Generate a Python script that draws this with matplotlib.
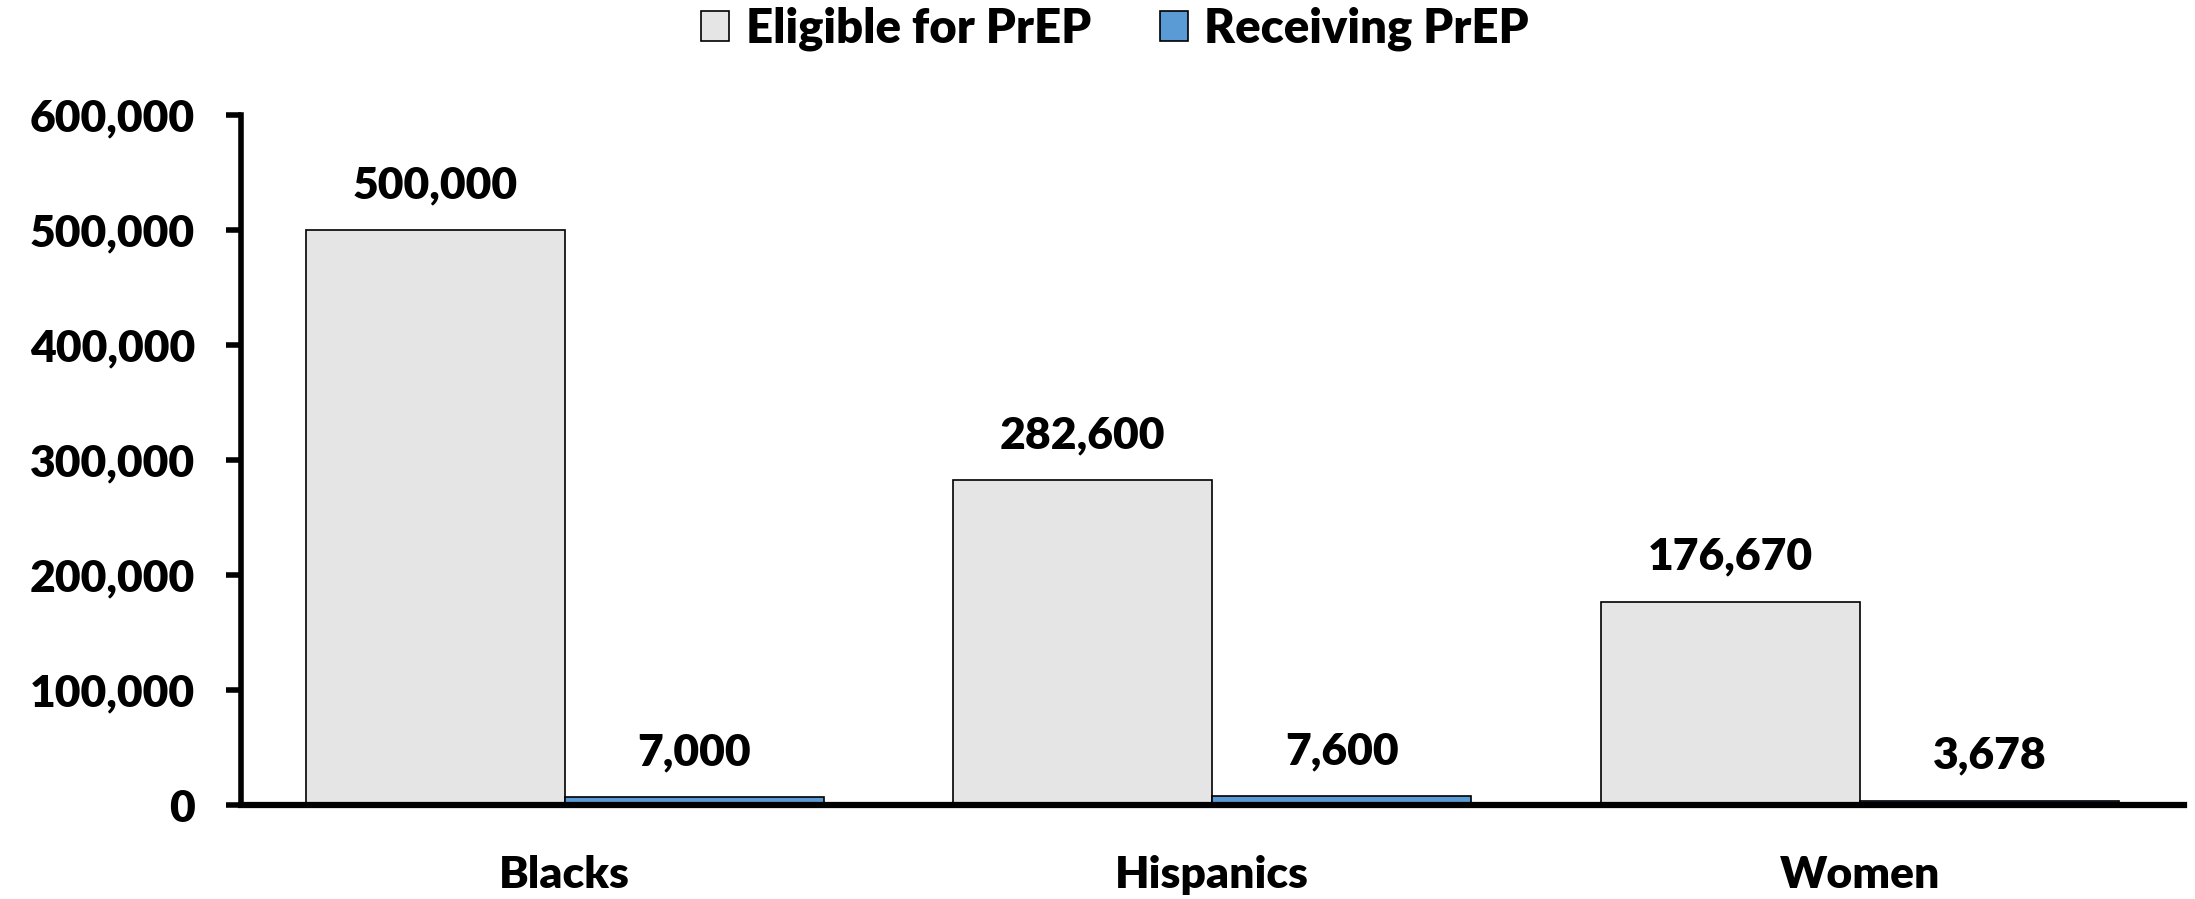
import matplotlib
matplotlib.use("Agg")
import matplotlib.pyplot as plt
import numpy as np
from matplotlib.ticker import FuncFormatter

plt.rcParams['font.family'] = ['Lato', 'DejaVu Sans']
WEIGHT = "heavy"
plt.rcParams['font.weight'] = WEIGHT

categories = ["Blacks", "Hispanics", "Women"]
eligible = [500000, 282600, 176670]
receiving = [7000, 7600, 3678]
series_names = ["Eligible for PrEP", "Receiving PrEP"]
yticks = [0, 100000, 200000, 300000, 400000, 500000, 600000]

grey = "#E5E5E5"
blue = "#5B9BD5"
fs = 32

fig = plt.figure(figsize=(21.95, 8.99), dpi=100)
ax = fig.add_axes([0.1098, 0.1045, 0.885, 0.7676])

x = np.arange(len(categories))
w = 0.4
b1 = ax.bar(x - w / 2, eligible, width=w, color=grey, edgecolor="black",
            linewidth=1.2, label=series_names[0])
b2 = ax.bar(x + w / 2, receiving, width=w, color=blue, edgecolor="black",
            linewidth=1.2, label=series_names[1])

for bars, vals in ((b1, eligible), (b2, receiving)):
    for rect, v in zip(bars, vals):
        ax.annotate(f"{v:,}", (rect.get_x() + rect.get_width() / 2, v),
                    xytext=(0, 18), textcoords="offset points",
                    ha="center", va="bottom", fontsize=fs, fontweight=WEIGHT)

ax.set_xlim(-0.5, 2.5)
ax.set_ylim(0, 600000)
ax.set_yticks(yticks)
ax.yaxis.set_major_formatter(FuncFormatter(lambda v, p: f"{int(v):,}"))
ax.set_xticks(x)
ax.set_xticklabels(categories)

for s in ("top", "right"):
    ax.spines[s].set_visible(False)
ax.spines["left"].set_linewidth(4)
ax.spines["bottom"].set_linewidth(4.5)
ax.spines["left"].set_zorder(5)
ax.spines["bottom"].set_zorder(5)

ax.tick_params(axis="y", direction="out", length=11, width=4, pad=22,
               labelsize=fs)
ax.tick_params(axis="x", length=0, pad=36, labelsize=fs)
for lbl in ax.get_xticklabels() + ax.get_yticklabels():
    lbl.set_fontweight(WEIGHT)

leg_fs = 34
leg = fig.legend(handles=[b1, b2], labels=series_names, loc="upper center",
                 bbox_to_anchor=(0.508, 1.04), ncol=2, frameon=False,
                 handlelength=0.6, handleheight=0.6,
                 handletextpad=0.35, columnspacing=1.45,
                 prop={"weight": WEIGHT, "size": leg_fs})

fig.savefig("out.png", dpi=100)
